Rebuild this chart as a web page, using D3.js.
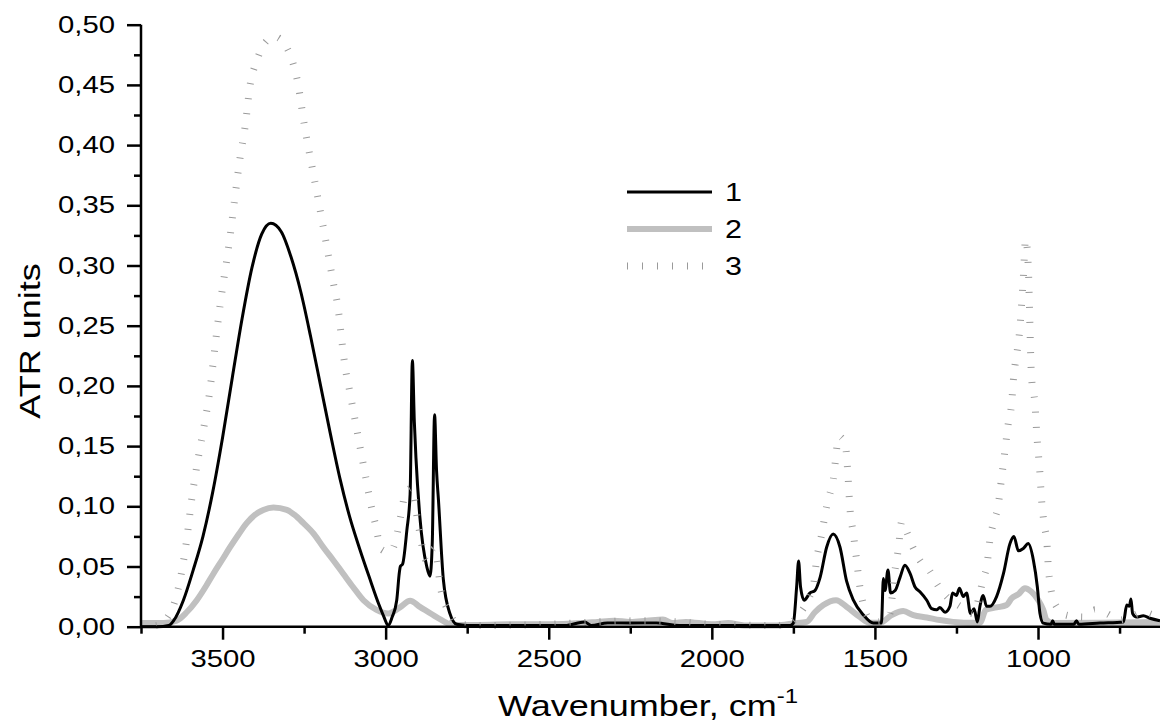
<!DOCTYPE html>
<html><head><meta charset="utf-8">
<script src="https://cdn.jsdelivr.net/npm/d3@7"></script>
<style>html,body{margin:0;padding:0;background:#fff;}svg{display:block;font-family:"Liberation Sans",Arial,sans-serif;}</style>
</head><body>
<svg id="chart" width="1160" height="723"></svg>
<script>
// ---- data ----
const wn1 = [3750,3700,3665,3650,3620,3590,3560,3530,3500,3470,3440,3410,3380,3352,3320,3290,3260,3230,3200,3170,3140,3110,3080,3050,3020,3005,2992,2980,2966,2958,2955,2948,2935,2925,2918,2912,2907,2895,2874,2864,2857,2850,2844,2838,2823,2803,2782,2750,2600,2450,2390,2370,2320,2250,2170,2100,2000,1900,1800,1760,1750,1740,1734,1728,1717,1699,1684,1668,1648,1628,1607,1587,1566,1536,1505,1480,1474,1469,1460,1452,1438,1423,1408,1392,1377,1362,1341,1326,1311,1301,1285,1270,1262,1250,1241,1229,1219,1207,1196,1186,1178,1168,1158,1147,1127,1106,1086,1074,1060,1045,1030,1014,1002,994,984,960,955,950,890,882,875,810,738,728,720,715,710,698,677,657,626];
const ab1 = [0,0,0.001,0.005,0.022,0.047,0.075,0.112,0.157,0.207,0.256,0.298,0.326,0.335,0.328,0.307,0.278,0.241,0.201,0.161,0.123,0.091,0.065,0.041,0.018,0.008,0.001,0.008,0.022,0.045,0.050,0.052,0.080,0.110,0.221,0.170,0.140,0.091,0.050,0.042,0.070,0.176,0.130,0.105,0.039,0.011,0.002,0.001,0.001,0.001,0.004,0.001,0.003,0.003,0.003,0.001,0.001,0.001,0.001,0.001,0.003,0.033,0.0545,0.033,0.022,0.028,0.030,0.041,0.066,0.077,0.066,0.038,0.022,0.010,0.003,0.003,0.040,0.030,0.047,0.028,0.030,0.041,0.051,0.044,0.033,0.029,0.022,0.015,0.014,0.016,0.012,0.017,0.028,0.026,0.032,0.025,0.028,0.011,0.015,0.004,0.017,0.026,0.017,0.017,0.025,0.044,0.069,0.075,0.063,0.065,0.069,0.055,0.033,0.011,0.003,0.002,0.005,0.002,0.002,0.005,0.002,0.003,0.004,0.018,0.017,0.023,0.011,0.008,0.009,0.007,0.005];

const wn2 = [3750,3681,3641,3610,3579,3550,3528,3500,3477,3450,3426,3400,3375,3344,3303,3280,3252,3220,3191,3160,3130,3100,3068,3028,2992,2956,2925,2895,2844,2793,2720,2600,2500,2400,2350,2300,2250,2200,2150,2120,2080,2000,1950,1900,1800,1750,1709,1684,1658,1619,1587,1546,1515,1484,1449,1413,1382,1341,1301,1260,1219,1178,1160,1127,1096,1081,1060,1040,1020,999,984,974,953,810,626];
const ab2 = [0.003,0.003,0.005,0.012,0.022,0.034,0.044,0.056,0.066,0.077,0.086,0.093,0.097,0.099,0.097,0.093,0.086,0.077,0.066,0.055,0.044,0.033,0.022,0.014,0.011,0.016,0.0215,0.0165,0.008,0.0015,0.0015,0.002,0.002,0.003,0.004,0.005,0.004,0.005,0.006,0.003,0.004,0.002,0.003,0.001,0.001,0.0027,0.004,0.012,0.018,0.022,0.0166,0.008,0.0033,0.0033,0.0096,0.013,0.0096,0.0077,0.0055,0.004,0.0033,0.0033,0.014,0.016,0.018,0.0235,0.027,0.032,0.029,0.022,0.014,0.0055,0.003,0.0033,0.004];

const wn3 = [3750,3702,3656,3630,3610,3595,3574,3559,3538,3523,3508,3477,3462,3446,3431,3416,3395,3370,3340,3310,3284,3268,3250,3220,3190,3160,3145,3135,3125,3109,3094,3079,3063,3048,3033,3012,2990,2976,2955,2940,2920,2900,2875,2850,2830,2803,2780,2700,2500,2350,2200,2100,2000,1800,1760,1730,1700,1689,1679,1663,1648,1628,1610,1597,1590,1582,1577,1566,1556,1546,1536,1515,1490,1470,1454,1440,1428,1418,1403,1387,1362,1331,1311,1280,1239,1198,1178,1168,1157,1147,1137,1122,1111,1101,1091,1081,1076,1055,1045,1038,1030,1020,1009,1004,994,989,979,973,968,963,948,912,861,825,790,749,718,677,646,626];
const ab3 = [0,0.001,0.014,0.039,0.072,0.105,0.141,0.163,0.198,0.233,0.266,0.324,0.357,0.390,0.415,0.449,0.470,0.485,0.490,0.484,0.468,0.450,0.418,0.374,0.330,0.285,0.263,0.239,0.217,0.194,0.172,0.150,0.127,0.105,0.087,0.064,0.062,0.066,0.090,0.110,0.115,0.085,0.055,0.065,0.030,0.011,0.002,0.001,0.002,0.004,0.005,0.004,0.002,0.001,0.003,0.011,0.025,0.033,0.055,0.077,0.100,0.122,0.158,0.155,0.150,0.123,0.100,0.077,0.055,0.033,0.019,0.006,0.004,0.006,0.011,0.044,0.065,0.087,0.079,0.068,0.055,0.046,0.036,0.025,0.017,0.011,0.028,0.040,0.050,0.073,0.086,0.101,0.125,0.147,0.169,0.185,0.203,0.250,0.290,0.322,0.300,0.208,0.184,0.161,0.127,0.105,0.082,0.071,0.048,0.036,0.019,0.0095,0.008,0.014,0.011,0.0055,0.008,0.012,0.0095,0.007];

const yMajor = [0,0.05,0.10,0.15,0.20,0.25,0.30,0.35,0.40,0.45,0.50];
const xMajor = [3500,3000,2500,2000,1500,1000];
const seriesNames = ["1","2","3"];

// ---- layout ----
const svg = d3.select("#chart");
const L = 141, R = 1160, T = 24.7, B = 626.7;
const SX = 1.22; // horizontal text stretch
const x = d3.scaleLinear().domain([3750, 626]).range([L, R]);
const y = d3.scaleLinear().domain([0, 0.5]).range([B, T]);

svg.append("rect").attr("width",1160).attr("height",723).attr("fill","#fff");
svg.append("clipPath").attr("id","clip").append("rect").attr("x",L).attr("y",0).attr("width",R-L).attr("height",B+4);

const line = d3.line().x(d=>x(d[0])).y(d=>y(d[1])).curve(d3.curveMonotoneX);
const g = svg.append("g").attr("clip-path","url(#clip)");
const styles = [
  {stroke:"#000", w:3, dash:null},
  {stroke:"#c0c0c0", w:6, dash:null},
  {stroke:"#9a9a9a", w:7, dash:"1,14"}
];
const data = [d3.zip(wn1,ab1), d3.zip(wn2,ab2), d3.zip(wn3,ab3)];
[1,0,2].forEach(i=>{
  g.append("path").datum(data[i]).attr("d",line).attr("fill","none")
   .attr("stroke",styles[i].stroke).attr("stroke-width",styles[i].w)
   .attr("stroke-linejoin","round")
   .attr("stroke-dasharray",styles[i].dash);
});

// ---- axes ----
const fmt = d => d3.format(".2f")(d).replace(".", ",");
const yMinorTicks = d3.range(0, 0.5001, 0.025).filter(v=>Math.abs(v*20-Math.round(v*20))>1e-6);
const yMin = svg.append("g").attr("transform",`translate(${L},0)`)
  .call(d3.axisLeft(y).tickValues(yMinorTicks).tickSize(7).tickFormat(""));
const yAx = svg.append("g").attr("transform",`translate(${L},0)`)
  .call(d3.axisLeft(y).tickValues(yMajor).tickSize(14).tickPadding(12).tickFormat(fmt));
const xMinorTicks = d3.range(750, 3751, 250).filter(v=>v%500!==0);
const xMin = svg.append("g").attr("transform",`translate(0,${B})`)
  .call(d3.axisBottom(x).tickValues(xMinorTicks).tickSize(7).tickFormat(""));
const xAx = svg.append("g").attr("transform",`translate(0,${B})`)
  .call(d3.axisBottom(x).tickValues(xMajor).tickSize(13).tickPadding(10).tickFormat(d3.format("d")));

[yMin,yAx,xMin,xAx].forEach(a=>{
  a.selectAll(".domain").attr("stroke","#000").attr("stroke-width",2.5);
  a.selectAll(".tick line").attr("stroke","#000").attr("stroke-width",2.5);
  a.selectAll("text").attr("fill","#000").attr("font-size",24).attr("font-family","Liberation Sans, Arial, sans-serif");
});
xMin.select(".domain").remove(); yMin.select(".domain").remove();
yAx.select(".domain").attr("d",`M0,${B}V${T}`);
xAx.select(".domain").attr("d",`M${L},0H${R}`);
yAx.selectAll("text").attr("x",-26/SX).attr("transform",`scale(${SX},1)`);
xAx.selectAll("text").attr("transform",`scale(${SX},1)`).attr("x",0);

// ---- titles ----
const xt = svg.append("text").attr("transform",`translate(498,716) scale(1.2,1)`)
  .attr("font-size",30).attr("fill","#000");
xt.append("tspan").text("Wavenumber, cm");
xt.append("tspan").attr("font-size",20).attr("dy",-13).text("-1");

svg.append("text").attr("transform",`translate(40,341) rotate(-90) scale(1.2,1)`)
  .attr("text-anchor","middle").attr("font-size",30).attr("fill","#000").text("ATR units");

// ---- legend ----
const legY = [192, 229, 266];
seriesNames.forEach((n,i)=>{
  svg.append("line").attr("x1",627).attr("x2",712).attr("y1",legY[i]).attr("y2",legY[i])
    .attr("stroke",styles[i].stroke).attr("stroke-width",styles[i].w)
    .attr("stroke-dasharray",styles[i].dash);
  svg.append("text").attr("transform",`translate(725,${legY[i]}) scale(${SX},1)`)
    .attr("dy","0.36em").attr("font-size",25).attr("fill","#000").text(n);
});
</script>
</body></html>
